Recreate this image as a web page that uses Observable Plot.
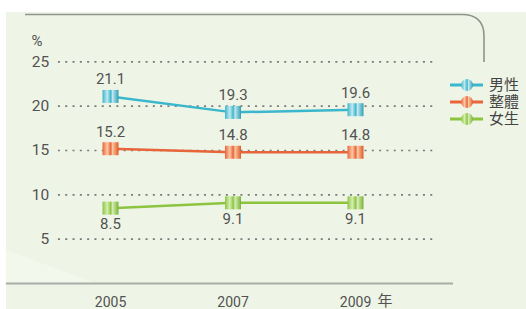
<!DOCTYPE html>
<html><head><meta charset="utf-8">
<script src="https://cdn.jsdelivr.net/npm/d3@7"></script>
<script src="https://cdn.jsdelivr.net/npm/@observablehq/plot@0.6"></script>
<style>html,body{margin:0;padding:0;background:#fff;} svg{display:block}</style>
</head><body><div id="chart"></div>
<script>
const years = [2005, 2007, 2009];
const xTickLabels = ["2005", "2007", "2009"];
const seriesNames = ["男性", "整體", "女生"];
const male = [21.1, 19.3, 19.6];
const overall = [15.2, 14.8, 14.8];
const female = [8.5, 9.1, 9.1];
const yTicks = [5, 10, 15, 20, 25];
const unitLabel = "%";
const yearSuffix = "年";

const seriesValues = [male, overall, female];
const colors = ["#3ab7cc", "#e8643a", "#8cc43f"];
const light = ["#c3e8f0", "#fbc9a4", "#d6eeb5"];
const dark = ["#2d9fb5", "#e05a26", "#79b236"];
const labelBelow = [false, false, true];

const rows = [];
seriesValues.forEach((vals, s) => vals.forEach((v, i) => rows.push({series: seriesNames[s], s, year: years[i], value: v})));

const W = 526, H = 309;
const font = "Roboto, 'Noto Sans CJK TC', sans-serif";
const textColor = "#525252";

const squareSymbol = {draw(ctx) { ctx.rect(-8, -6.5, 16, 13); }};

const defs = () => {
  const d = d3.create("svg:defs");
  seriesNames.forEach((n, s) => {
    const g = d.append("linearGradient").attr("id", "grad" + s).attr("x1", 0).attr("x2", 1).attr("y1", 0).attr("y2", 0);
    [[0, colors[s]], [0.3, light[s]], [0.52, colors[s]], [0.62, light[s]], [1, dark[s]]].forEach(([o, c]) =>
      g.append("stop").attr("offset", o).attr("stop-color", c));
  });
  return d.node();
};

const marks = [defs];
// dotted gridlines
marks.push(Plot.ruleY(yTicks, {x1: 2004.15, x2: 2010.34, stroke: "#7a7a7a", strokeWidth: 1.6, strokeDasharray: "2 5.3"}));
// baseline
marks.push(Plot.ruleY([0], {x1: 2003.3, x2: 2010.6, stroke: "#a9aca6", strokeWidth: 2}));
// y tick labels
marks.push(Plot.text(yTicks, {x: 2004.0, y: d => d, text: d => String(d), textAnchor: "end", fill: textColor, fontSize: 15.5}));
marks.push(Plot.text([unitLabel], {x: 2003.8, y: 27.3, text: d => d, textAnchor: "middle", fill: textColor, fontSize: 15}));
// x tick labels
marks.push(Plot.text(years, {x: d => d, y: 0, dy: 19, text: (d, i) => xTickLabels[i], fill: textColor, fontSize: 14}));
marks.push(Plot.text([yearSuffix], {x: years[years.length - 1], y: 0, dy: 18, dx: 22, text: d => d, textAnchor: "start", fill: textColor, fontSize: 15}));

seriesNames.forEach((n, s) => {
  const data = rows.filter(r => r.s === s);
  marks.push(Plot.line(data, {x: "year", y: "value", stroke: colors[s], strokeWidth: 2.5}));
  marks.push(Plot.dot(data, {x: "year", y: "value", symbol: squareSymbol, fill: `url(#grad${s})`, r: 8}));
  marks.push(Plot.text(data, {x: "year", y: "value", text: d => d.value.toFixed(1), dy: labelBelow[s] ? 16 : -17, fill: textColor, fontSize: 15}));
});

const plot = Plot.plot({
  width: W, height: H,
  marginLeft: 0, marginRight: 0, marginTop: 17, marginBottom: 26,
  x: {domain: [2003.204, 2003.204 + W / 61.25], axis: null},
  y: {domain: [0, 30], axis: null},
  style: {fontFamily: font, background: "#fff", overflow: "visible"},
  marks
});

const svg = d3.select(plot);
// background panel
const bg = svg.insert("g", ":first-child");
bg.append("rect").attr("x", 6).attr("y", 12).attr("width", W - 6).attr("height", H - 12).attr("fill", "#eef5e6");
bg.append("path").attr("d", `M6,250 L95,283 L6,283 Z`).attr("fill", "#f3f8ed");
// top frame with rounded corner
bg.append("path").attr("d", "M25,14.5 H462 Q484,14.5 484,36 V62").attr("fill", "none").attr("stroke", "#8f948c").attr("stroke-width", 1.6);

// legend
const lg = svg.append("g").attr("font-family", font).attr("text-anchor", "start");
seriesNames.forEach((n, s) => {
  const y = 85 + s * 17;
  lg.append("line").attr("x1", 450).attr("x2", 483).attr("y1", y).attr("y2", y).attr("stroke", colors[s]).attr("stroke-width", 2.8);
  lg.append("ellipse").attr("cx", 467).attr("cy", y).attr("rx", 6).attr("ry", 6).attr("fill", `url(#grad${s})`);
  lg.append("text").attr("x", 489).attr("y", y).attr("dy", "0.36em").attr("font-size", 15).attr("fill", "#444").attr("text-anchor", "start").text(n);
});

document.getElementById("chart").appendChild(plot);
</script>
</body></html>
